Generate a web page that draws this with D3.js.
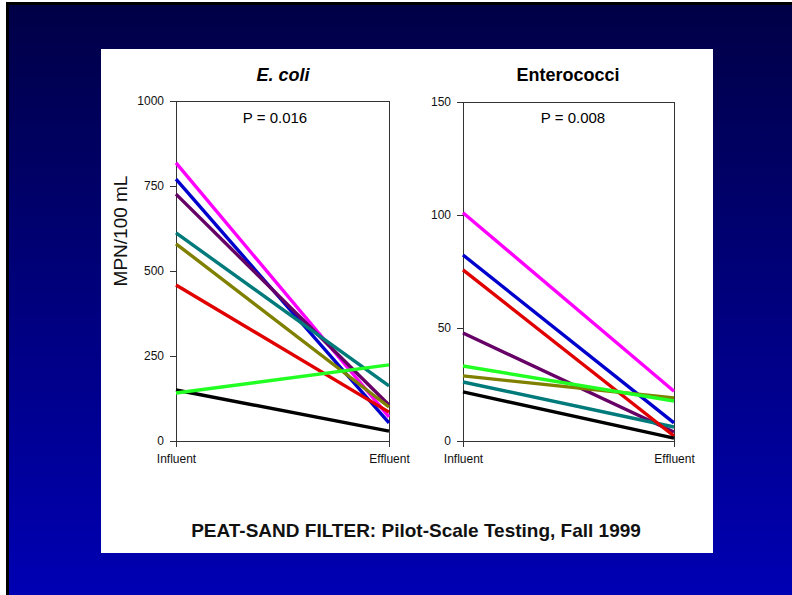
<!DOCTYPE html>
<html>
<head>
<meta charset="utf-8">
<script src="https://cdn.jsdelivr.net/npm/d3@7"></script>
<style>
  body { margin: 0; background: #ffffff; }
  svg { display: block; }
</style>
</head>
<body>
<div id="chart"></div>
<script>
const stages = ["Influent", "Effluent"];
const seriesColors = ["#ff00ff", "#0000cc", "#660066", "#007a7a", "#808000", "#e00000", "#000000", "#22ff22"];

// E. coli, MPN/100 mL [influent, effluent]
const ecoliValues = [
    [818, 71],
    [770, 53],
    [726, 106],
    [612, 162],
    [580, 100],
    [459, 85],
    [150, 29],
    [141, 224]
];

// Enterococci, MPN/100 mL [influent, effluent], same colour order
const enteroValues = [
    [101, 22],
    [82.3, 8],
    [47.8, 4],
    [26.1, 6.2],
    [28.8, 19],
    [75.7, 2.2],
    [21.7, 1.3],
    [33.2, 17.7]
];

const ecoliTicks = [0, 250, 500, 750, 1000];
const enteroTicks = [0, 50, 100, 150];

const W = 792, H = 595;
const FONT = "Arial, 'Liberation Sans', sans-serif";

const svg = d3.select("#chart")
    .append("svg")
    .attr("width", W)
    .attr("height", H);

const grad = svg.append("defs")
    .append("linearGradient")
    .attr("id", "bg")
    .attr("x1", 0).attr("y1", 0)
    .attr("x2", 0).attr("y2", 1);
grad.append("stop").attr("offset", "0%").attr("stop-color", "#000046");
grad.append("stop").attr("offset", "100%").attr("stop-color", "#0000b4");

svg.append("rect")
    .attr("x", 7.5)
    .attr("y", 3.5)
    .attr("width", W)
    .attr("height", H)
    .attr("fill", "url(#bg)")
    .attr("stroke", "#000")
    .attr("stroke-width", 3);

// white panel
svg.append("rect")
    .attr("x", 101)
    .attr("y", 49)
    .attr("width", 612)
    .attr("height", 504)
    .attr("fill", "#fff");

function drawPanel(cfg) {
    const x = d3.scalePoint()
        .domain(stages)
        .range([cfg.left, cfg.right]);

    const y = d3.scaleLinear()
        .domain([0, cfg.max])
        .range([441, cfg.top]);

    const g = svg.append("g");

    g.append("g")
        .attr("transform", "translate(" + cfg.left + ",0)")
        .call(d3.axisLeft(y).tickValues(cfg.ticks).tickFormat(d3.format("d"))
            .tickSize(6).tickSizeOuter(0).tickPadding(6))
        .call(a => a.select(".domain").remove())
        .call(a => a.selectAll("line").attr("stroke", "#333"))
        .call(a => a.selectAll("text")
            .attr("font-family", FONT)
            .attr("font-size", 12)
            .attr("fill", "#111"));

    g.append("g")
        .attr("transform", "translate(0,441)")
        .call(d3.axisBottom(x).tickSize(6).tickSizeOuter(0).tickPadding(7))
        .call(a => a.select(".domain").remove())
        .call(a => a.selectAll("line").attr("stroke", "#333"))
        .call(a => a.selectAll("text")
            .attr("font-family", FONT)
            .attr("font-size", 12)
            .attr("fill", "#111"));

    g.append("rect")
        .attr("x", cfg.left + 0.5)
        .attr("y", y(cfg.max) + 0.5)
        .attr("width", cfg.right - cfg.left)
        .attr("height", y(0) - y(cfg.max))
        .attr("fill", "none")
        .attr("stroke", "#333")
        .attr("stroke-width", 1);

    const line = d3.line()
        .x((d, i) => x(stages[i]))
        .y(d => y(d));

    g.selectAll("path.series")
        .data(cfg.values)
        .join("path")
        .attr("class", "series")
        .attr("d", d => line(d))
        .attr("fill", "none")
        .attr("stroke", (d, i) => seriesColors[i])
        .attr("stroke-width", 3.4);

    g.append("text")
        .attr("x", cfg.titleX)
        .attr("y", 81)
        .attr("text-anchor", "middle")
        .attr("font-family", FONT)
        .attr("font-size", 18)
        .attr("font-weight", "bold")
        .attr("font-style", cfg.italic ? "italic" : "normal")
        .text(cfg.title);

    g.append("text")
        .attr("x", cfg.pX)
        .attr("y", 123)
        .attr("text-anchor", "middle")
        .attr("font-family", FONT)
        .attr("font-size", 15)
        .text(cfg.p);
}

drawPanel({
    left: 176, right: 389, top: 101, max: 1000,
    ticks: ecoliTicks, values: ecoliValues,
    title: "E. coli", italic: true, titleX: 283, p: "P = 0.016", pX: 275
});

drawPanel({
    left: 463, right: 674, top: 102, max: 150,
    ticks: enteroTicks, values: enteroValues,
    title: "Enterococci", italic: false, titleX: 568, p: "P = 0.008", pX: 573
});

svg.append("text")
    .attr("transform", "translate(127,231) rotate(-90)")
    .attr("text-anchor", "middle")
    .attr("font-family", FONT)
    .attr("font-size", 19)
    .attr("fill", "#111")
    .text("MPN/100 mL");

svg.append("text")
    .attr("x", 416)
    .attr("y", 537)
    .attr("text-anchor", "middle")
    .attr("font-family", FONT)
    .attr("font-size", 19)
    .attr("font-weight", "bold")
    .attr("fill", "#111")
    .text("PEAT-SAND FILTER: Pilot-Scale Testing, Fall 1999");
</script>
</body>
</html>
